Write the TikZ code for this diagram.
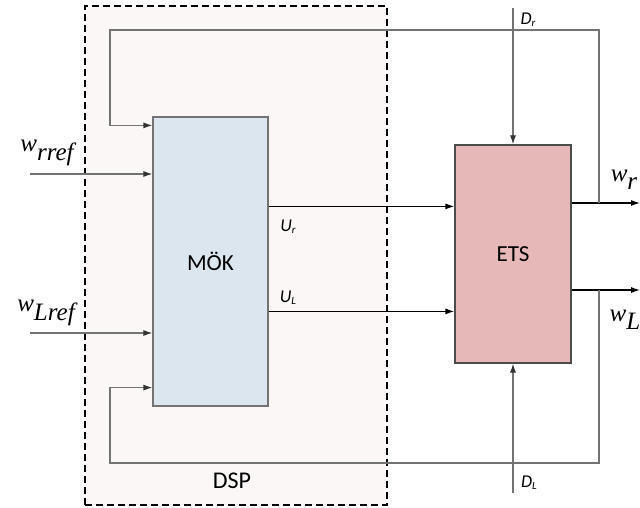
\documentclass[tikz,border=0pt]{standalone}
\usepackage{fontspec}
\setmainfont{Carlito}
\newfontfamily\wfont{Liberation Serif}
\usetikzlibrary{positioning, arrows.meta, calc}

\definecolor{dspfill}{HTML}{FBF7F7}
\definecolor{mokfill}{HTML}{DCE6EF}
\definecolor{etsfill}{HTML}{E6B9B8}

% speed label: w with a large lowered index
\newcommand{\wlab}[1]{{\wfont\itshape\fontsize{25}{25}\selectfont w\raisebox{-0.33em}{#1}}}
% small signal label: italic letter with tiny index
\newcommand{\slab}[2]{{\itshape\fontsize{18}{18}\selectfont #1\raisebox{-0.2ex}{\fontsize{11}{11}\selectfont #2}}}

\begin{document}
\begin{tikzpicture}[x=1pt, y=-1pt, >={Latex[length=9pt,width=6pt]},
    block/.style={draw, line width=1.2pt, inner sep=0pt, font=\fontsize{23}{23}\selectfont},
    sig/.style={->, line width=1.2pt, black},
    fb/.style={line width=1.2pt, black!55}]
    \useasboundingbox (0,0) rectangle (640,508);
    % DSP area
    \node[draw, fill=dspfill, line width=1.8pt, dash pattern=on 7pt off 4pt,
          minimum width=302pt, minimum height=499pt, inner sep=0pt] (dsp) at (236,255.5) {};
    \node[font=\fontsize{24}{24}\selectfont] (dsplab) at (232,481) {DSP};
    % blocks
    \node[block, draw=black!55, fill=mokfill, minimum width=115pt, minimum height=289pt] (mok) at (210.5,261.5) {MÖK};
    \node[block, draw=black!70, fill=etsfill, minimum width=116pt, minimum height=218pt] (ets) at (513,254) {ETS};
    % end points
    \coordinate (wrin) at (30,174);
    \coordinate (wlin) at (30,333);
    \coordinate (drin) at (513,8);
    \coordinate (dlin) at (513,493);
    \coordinate (wrout) at (640,203);
    \coordinate (wlout) at (640,290);
    \coordinate (tapr) at (599,203);
    \coordinate (tapl) at (599,290);
    % control signals
    \draw[sig] ($(mok.north east)+(0,90)$) -- ($(ets.north west)+(0,62)$);
    \draw[sig] ($(mok.north east)+(0,195)$) -- ($(ets.north west)+(0,167)$);
    \node (ur) at (288,227) {\slab{U}{r}};
    \node (ul) at (288,298) {\slab{U}{L}};
    % outputs
    \draw[sig] (ets.east |- wrout) -- (wrout);
    \draw[sig] (ets.east |- wlout) -- (wlout);
    \node (wr) at (624,180) {\wlab{r}};
    \node (wl) at (625,320) {\wlab{L}};
    % references
    \draw[fb, -{Latex[length=9pt,width=6pt,color=black!80]}] (wrin) -- (mok.west |- wrin);
    \draw[fb, -{Latex[length=9pt,width=6pt,color=black!80]}] (wlin) -- (mok.west |- wlin);
    \node (wrref) at (47,153) {\wlab{rref}};
    \node (wlref) at (46,313) {\wlab{Lref}};
    % disturbances
    \draw[fb, -{Latex[length=9pt,width=6pt,color=black!80]}] (drin) -- (ets.north);
    \draw[fb, -{Latex[length=9pt,width=6pt,color=black!80]}] (dlin) -- (ets.south);
    \node (dr) at (528,20) {\slab{D}{r}};
    \node (dl) at (529,483) {\slab{D}{L}};
    % feedback loops
    \draw[fb, -{Latex[length=9pt,width=6pt,color=black!80]}] (tapr) |- (110,30) |- ($(mok.north west)+(0,9)$);
    \draw[fb, -{Latex[length=9pt,width=6pt,color=black!80]}] (tapl) |- (110,463) |- ($(mok.south west)+(0,-19)$);
\end{tikzpicture}
\end{document}
